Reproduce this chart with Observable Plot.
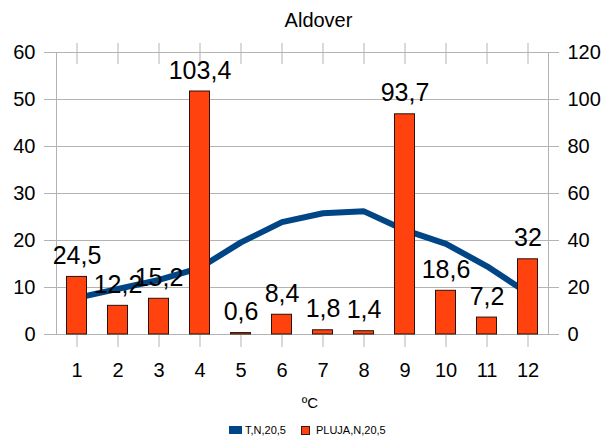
<!DOCTYPE html>
<html>
<head>
<meta charset="utf-8">
<script src="https://cdn.jsdelivr.net/npm/d3@7"></script>
<script src="https://cdn.jsdelivr.net/npm/@observablehq/plot@0.6"></script>
<style>
  body { margin: 0; background: #fff; font-family: "Liberation Sans", Arial, sans-serif; }
  #wrap { position: relative; width: 611px; height: 439px; overflow: hidden; background: #fff; }
  #title { position: absolute; top: 10px; left: 0; width: 611px; padding-left: 26px; box-sizing: border-box;
           text-align: center; font-size: 20px; line-height: 20px; color: #000; }
  #chart { position: absolute; top: 35px; left: 0; }
  #xlabel { position: absolute; top: 395px; left: 0; width: 611px; padding-left: 9px; box-sizing: border-box;
            text-align: center; font-size: 15px; line-height: 15px; color: #000; }
  #legend { position: absolute; top: 424px; left: 229px; height: 12px; display: flex; align-items: center;
            font-size: 11px; line-height: 12px; color: #000; white-space: nowrap; }
  .sw1 { display: inline-block; width: 13px; height: 8px; background: #004586; margin-right: 3px; }
  .sw2 { display: inline-block; width: 9px; height: 9px; background: #ff420e; border: 1px solid #3a1a10;
         box-sizing: border-box; margin-left: 15px; margin-right: 6px; }
</style>
</head>
<body>
<div id="wrap">
  <div id="title"></div>
  <div id="chart"></div>
  <div id="xlabel"></div>
  <div id="legend"></div>
</div>
<script>
// ---- data ----
const title = "Aldover";
const xLabel = "ºC";
const months = [1, 2, 3, 4, 5, 6, 7, 8, 9, 10, 11, 12];
const temperature = [7.8, 9.7, 11.6, 14.2, 19.6, 23.9, 25.8, 26.2, 22.2, 19.3, 14.5, 8.8];
const rain = [24.5, 12.2, 15.2, 103.4, 0.6, 8.4, 1.8, 1.4, 93.7, 18.6, 7.2, 32];
const leftTicks = [0, 10, 20, 30, 40, 50, 60];
const rightTicks = [0, 20, 40, 60, 80, 100, 120];
const seriesNames = ["T,N,20,5", "PLUJA,N,20,5"];

// ---- build ----
const data = months.map((m, i) => ({month: m, t: temperature[i], rain: rain[i]}));
const fmt = v => String(v).replace(".", ",");
const ratio = rightTicks[rightTicks.length - 1] / leftTicks[leftTicks.length - 1];
const grid = "#b3b3b3";

document.getElementById("title").textContent = title;
document.getElementById("xlabel").textContent = xLabel;
const lg = document.getElementById("legend");
lg.innerHTML = `<span class="sw1"></span><span>${seriesNames[0]}</span><span class="sw2"></span><span>${seriesNames[1]}</span>`;

const chart = Plot.plot({
  width: 611,
  height: 350,
  marginLeft: 56,
  marginRight: 63,
  marginTop: 17,
  marginBottom: 51,
  style: {fontFamily: "'Liberation Sans', Arial, sans-serif", background: "#fff", color: "#000"},
  x: {type: "band", domain: months, padding: 0},
  y: {domain: [0, rightTicks[rightTicks.length - 1]]},
  marks: [
    Plot.gridY(rightTicks, {stroke: grid, strokeOpacity: 1}),
    Plot.frame({stroke: grid}),
    Plot.axisY({anchor: "left", ticks: rightTicks, tickFormat: d => d / ratio, tickSize: 12, tickPadding: 9,
                fontSize: 20, stroke: grid, fill: "#000", label: null}),
    Plot.axisY({anchor: "right", ticks: rightTicks, tickSize: 10, tickPadding: 9,
                fontSize: 20, stroke: grid, fill: "#000", label: null}),
    Plot.axisX({anchor: "bottom", tickSize: 13, tickPadding: 15, fontSize: 20, stroke: grid, fill: "#000", label: null}),
    Plot.axisX({anchor: "top", tickSize: 10, stroke: grid, fill: "none", label: null}),
    Plot.tickX(months, {x: d => d, stroke: grid, insetBottom: 270}),
    Plot.line(data, {x: "month", y: d => d.t * ratio, stroke: "#004586", strokeWidth: 6, strokeLinejoin: "bevel"}),
    Plot.barY(data, {x: "month", y: "rain", fill: "#ff420e", stroke: "#2a1208", strokeWidth: 1, insetLeft: 10.5, insetRight: 10.5}),
    Plot.text(data, {x: "month", y: "rain", text: d => fmt(d.rain), dy: -13, lineAnchor: "bottom", fontSize: 25, fill: "#000"})
  ]
});
document.getElementById("chart").appendChild(chart);
</script>
</body>
</html>
